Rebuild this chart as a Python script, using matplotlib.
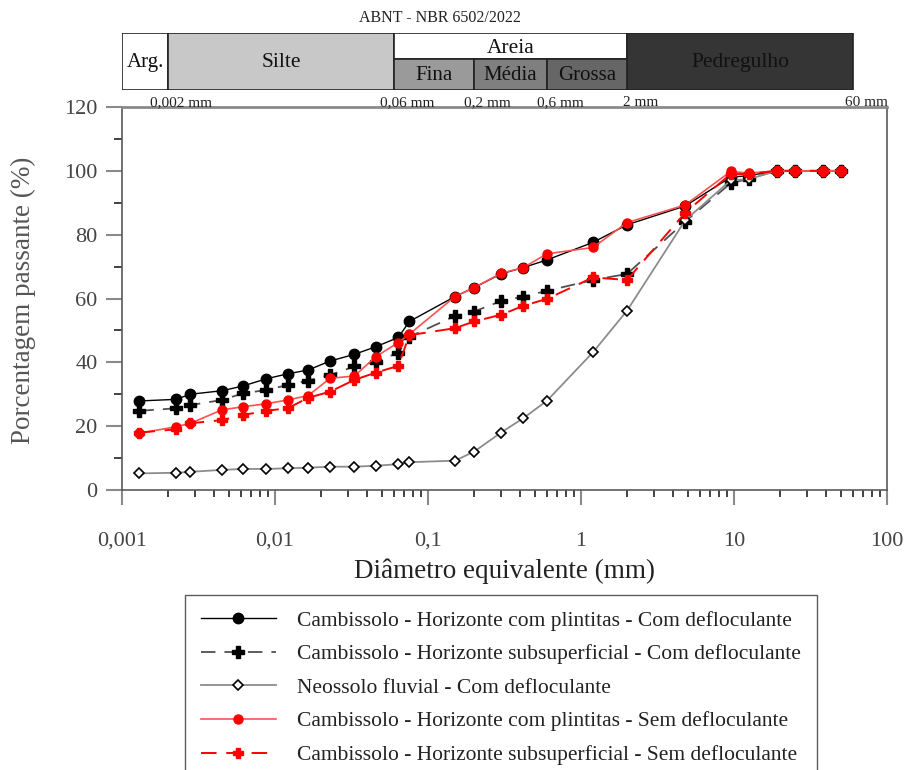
import numpy as np
import matplotlib
matplotlib.use('Agg')
import matplotlib.pyplot as plt
from matplotlib.patches import Rectangle
from matplotlib.ticker import MultipleLocator, FixedLocator, NullFormatter, LogLocator

plt.rcParams['font.family'] = ['Liberation Serif', 'DejaVu Serif']

# sieve / sedimentation diameters (mm)
diam = [0.0013, 0.00225, 0.0028, 0.0045, 0.0062, 0.0087, 0.0121, 0.0165, 0.0229,
        0.033, 0.0457, 0.064, 0.0755, 0.15, 0.2, 0.3, 0.42, 0.6, 1.2, 2.0, 4.8,
        9.5, 12.5, 19, 25, 38, 50]

camb_plint_com = [27.9, 28.4, 30.0, 31.1, 32.6, 34.8, 36.4, 37.6, 40.4, 42.5, 44.9, 47.8,
                  52.8, 60.6, 63.4, 67.7, 69.7, 72.1, 77.6, 83.1, 89.0, 98.0, 98.5,
                  100, 100, 100, 100]
camb_sub_com = [24.8, 25.6, 26.6, 28.2, 30.3, 31.3, 32.9, 34.3, 36.0, 38.7, 40.2, 43.0,
                48.0, 54.5, 55.9, 59.2, 60.6, 62.4, 65.8, 67.7, 84.1, 96.1, 97.5,
                100, 100, 100, 100]
neossolo_com = [5.2, 5.4, 5.7, 6.3, 6.6, 6.6, 6.8, 7.0, 7.3, 7.3, 7.6, 8.1,
                8.7, 9.2, 12.0, 18.0, 22.5, 28.0, 43.2, 56.2, 84.5, 97.0, 97.4,
                100, 100, 100, 100]
camb_plint_sem = [17.8, 19.8, 20.9, 25.1, 26.1, 27.0, 28.2, 29.6, 35.0, 35.7, 41.8, 46.2,
                  48.8, 60.6, 63.4, 67.9, 69.7, 74.0, 76.0, 83.8, 89.3, 99.8, 99.3,
                  100, 100, 100, 100]
camb_sub_sem = [18.0, 19.0, 20.9, 21.9, 23.5, 24.8, 25.6, 28.9, 30.8, 34.5, 36.8, 38.9,
                48.5, 50.7, 52.8, 54.9, 57.7, 59.9, 66.6, 65.8, 86.9, 99.0, 99.0,
                100, 100, 100, 100]

labels = ['Cambissolo - Horizonte com plintitas - Com defloculante',
          'Cambissolo - Horizonte subsuperficial - Com defloculante',
          'Neossolo fluvial - Com defloculante',
          'Cambissolo - Horizonte com plintitas - Sem defloculante',
          'Cambissolo - Horizonte subsuperficial - Sem defloculante']

# ABNT classes
class_edges = [0.001, 0.002, 0.06, 2, 60]
class_names = ['Arg.', 'Silte', 'Areia', 'Pedregulho']
class_colors = ['white', '#c8c8c8', 'white', '#353535']
sand_edges = [0.06, 0.2, 0.6, 2]
sand_names = ['Fina', 'Média', 'Grossa']
sand_colors = ['#9a9a9a', '#7f7f7f', '#666666']
limit_labels = ['0,002 mm', '0,06 mm', '0,2 mm', '0,6 mm', '2 mm', '60 mm']
limit_values = [0.002, 0.06, 0.2, 0.6, 2, 60]

W, H = 906, 770
fig = plt.figure(figsize=(W / 100, H / 100), dpi=100)

ax = fig.add_axes([122 / W, 1 - 490 / H, 765 / W, 383 / H])
ax.plot(diam, camb_plint_com, '-', color='black', lw=1.0, marker='o', ms=7.5,
        mfc='black', mec='black', label=labels[0])
ax.plot(diam, camb_sub_com, color='#505050', lw=1.3, ls=(0, (8, 5)), marker='P', ms=8.5,
        mfc='black', mec='black', label=labels[1])
ax.plot(diam, neossolo_com, '-', color='#8c8c8c', lw=1.3, marker='D', ms=5,
        mfc='white', mec='black', mew=1.2, label=labels[2])
ax.plot(diam, camb_plint_sem, '-', color='#ff5050', lw=1.2, marker='o', ms=6.5,
        mfc='red', mec='red', label=labels[3])
ax.plot(diam, camb_sub_sem, color='red', lw=1.4, ls=(0, (8, 5)), marker='P', ms=7,
        mfc='red', mec='red', label=labels[4])

ax.set_xscale('log')
ax.set_xlim(0.001, 100)
ax.set_ylim(0, 120)
ax.yaxis.set_major_locator(MultipleLocator(20))
ax.yaxis.set_minor_locator(MultipleLocator(10))
ax.xaxis.set_major_locator(FixedLocator([0.001, 0.01, 0.1, 1, 10, 100]))
ax.xaxis.set_minor_locator(LogLocator(base=10, subs=np.arange(2, 10), numticks=20))
ax.xaxis.set_minor_formatter(NullFormatter())
ax.set_xticklabels(['0,001', '0,01', '0,1', '1', '10', '100'])

for s in ax.spines.values():
    s.set_color('#5a5a5a')
    s.set_linewidth(1.2)
ax.spines['top'].set_color('#8a8a8a')
ax.spines['top'].set_linewidth(2)

ax.tick_params(axis='y', which='major', direction='out', length=11.5, width=1.5,
               color='#8a8a8a', labelsize=16, labelcolor='#444444', pad=6)
ax.tick_params(axis='y', which='minor', direction='out', length=5.8, width=1.2, color='#222222')
ax.tick_params(axis='x', which='major', direction='out', length=11, width=1.5,
               color='#8a8a8a', labelsize=16, labelcolor='#444444', pad=19)
ax.tick_params(axis='x', which='minor', direction='out', length=5, width=1.2, color='#222222')

ax.set_xlabel('Diâmetro equivalente (mm)', fontsize=19.5, color='#222222')
ax.xaxis.set_label_coords(0.5, -0.18)
ax.set_ylabel('Porcentagem passante (%)', fontsize=19.5, color='#555555')
ax.yaxis.set_label_coords(-0.112, 0.496)

# classification band
band = fig.add_axes([122 / W, 1 - 90 / H, 765 / W, 57 / H])
band.set_xscale('log')
band.set_xlim(0.001, 100)
band.set_ylim(0, 2)
band.axis('off')
for i, name in enumerate(class_names):
    x0, x1 = class_edges[i], class_edges[i + 1]
    if name == 'Areia':
        band.add_patch(Rectangle((x0, 1.1), x1 - x0, 0.9, fc=class_colors[i], ec='#222222', lw=1.2))
        band.text(np.sqrt(x0 * x1), 1.47, name, ha='center', va='center', fontsize=15.5, color='#111111')
    else:
        band.add_patch(Rectangle((x0, 0), x1 - x0, 2, fc=class_colors[i], ec='#222222', lw=1.2))
        band.text(np.sqrt(x0 * x1), 0.98, name, ha='center', va='center',
                  fontsize=15.5 if name != 'Arg.' else 15, color='#111111')
for i, name in enumerate(sand_names):
    x0, x1 = sand_edges[i], sand_edges[i + 1]
    band.add_patch(Rectangle((x0, 0), x1 - x0, 1.1, fc=sand_colors[i], ec='#222222', lw=1.2))
    band.text(np.sqrt(x0 * x1), 0.5, name, ha='center', va='center', fontsize=15, color='#111111')
for v, t in zip(limit_values, limit_labels):
    band.text(v * 1.22, -0.45, t, ha='center', va='center', fontsize=11, color='#222222')

fig.text(440 / W, 1 - 18 / H, 'ABNT - NBR 6502/2022', ha='center', va='center',
         fontsize=11.5, color='#222222')

leg = fig.legend(loc='upper left', bbox_to_anchor=(185 / W, 1 - 595 / H), fontsize=15.5,
                 frameon=True, fancybox=False, edgecolor='#333333', numpoints=1,
                 handlelength=3.5, handletextpad=1.0, labelspacing=0.63, borderpad=0.72,
                 borderaxespad=0)
leg.get_frame().set_linewidth(1.0)
for t in leg.get_texts():
    t.set_color('#222222')

fig.savefig('out.png', dpi=100)
